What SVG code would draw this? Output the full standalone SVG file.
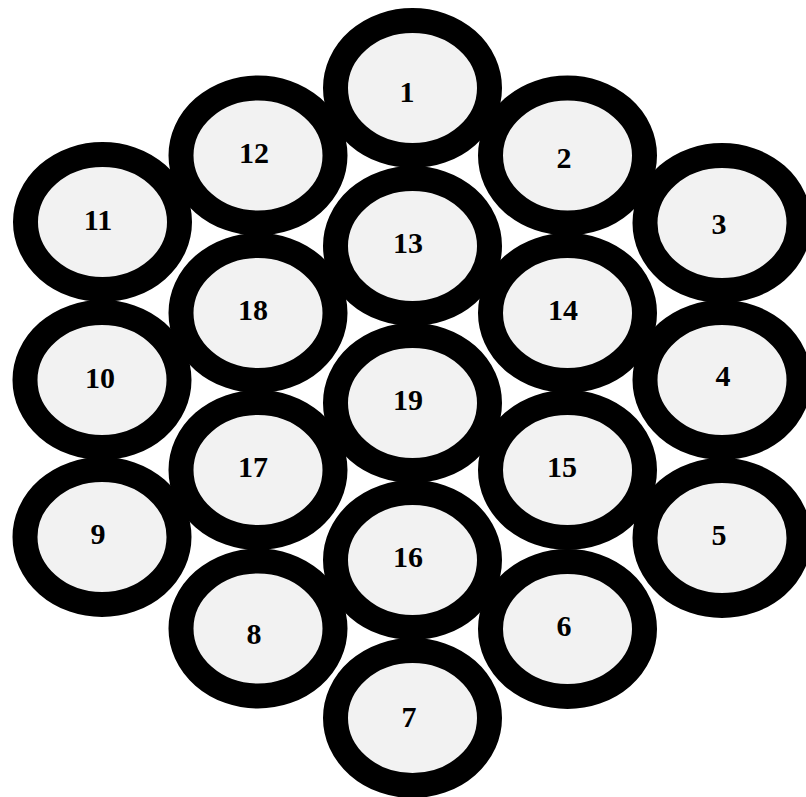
<svg xmlns="http://www.w3.org/2000/svg" width="806" height="797" viewBox="0 0 806 797">
<style>
.ring{fill:#f2f2f2;stroke:#000;stroke-width:25}
.lbl{font-family:"Liberation Serif","Times New Roman",serif;font-weight:bold;font-size:30px;fill:#000;text-anchor:middle}
</style>
<rect width="806" height="797" fill="#fff"/>
<g id="connectors"></g>
<g id="n1"><ellipse class="ring" cx="412.5" cy="88" rx="77" ry="67.5"/><text class="lbl" x="407" y="102">1</text></g>
<g id="n2"><ellipse class="ring" cx="567.5" cy="155.5" rx="77" ry="67.5"/><text class="lbl" x="564" y="168">2</text></g>
<g id="n3"><ellipse class="ring" cx="722" cy="223" rx="77" ry="67.5"/><text class="lbl" x="719" y="234">3</text></g>
<g id="n4"><ellipse class="ring" cx="722" cy="380" rx="77" ry="67.5"/><text class="lbl" x="723" y="386">4</text></g>
<g id="n5"><ellipse class="ring" cx="722" cy="538" rx="77" ry="67.5"/><text class="lbl" x="719" y="545">5</text></g>
<g id="n6"><ellipse class="ring" cx="567.5" cy="629" rx="77" ry="67.5"/><text class="lbl" x="564" y="636">6</text></g>
<g id="n7"><ellipse class="ring" cx="412.5" cy="718" rx="77" ry="67.5"/><text class="lbl" x="409" y="727">7</text></g>
<g id="n8"><ellipse class="ring" cx="258" cy="628.5" rx="77" ry="67.5"/><text class="lbl" x="254" y="644">8</text></g>
<g id="n9"><ellipse class="ring" cx="102" cy="537" rx="77" ry="67.5"/><text class="lbl" x="98" y="544">9</text></g>
<g id="n10"><ellipse class="ring" cx="102" cy="380" rx="77" ry="67.5"/><text class="lbl" x="100" y="388">10</text></g>
<g id="n11"><ellipse class="ring" cx="102.5" cy="222" rx="77" ry="67.5"/><text class="lbl" x="98" y="230">11</text></g>
<g id="n12"><ellipse class="ring" cx="258" cy="155.5" rx="77" ry="67.5"/><text class="lbl" x="254" y="163">12</text></g>
<g id="n13"><ellipse class="ring" cx="412.5" cy="246" rx="77" ry="67.5"/><text class="lbl" x="408" y="253">13</text></g>
<g id="n14"><ellipse class="ring" cx="567.5" cy="313" rx="77" ry="67.5"/><text class="lbl" x="563" y="320">14</text></g>
<g id="n15"><ellipse class="ring" cx="567.5" cy="470" rx="77" ry="67.5"/><text class="lbl" x="562" y="477">15</text></g>
<g id="n16"><ellipse class="ring" cx="412.5" cy="560" rx="77" ry="67.5"/><text class="lbl" x="408" y="567">16</text></g>
<g id="n17"><ellipse class="ring" cx="258" cy="470" rx="77" ry="67.5"/><text class="lbl" x="253" y="477">17</text></g>
<g id="n18"><ellipse class="ring" cx="258" cy="313" rx="77" ry="67.5"/><text class="lbl" x="253" y="320">18</text></g>
<g id="n19"><ellipse class="ring" cx="412.5" cy="403" rx="77" ry="67.5"/><text class="lbl" x="408" y="410">19</text></g>
</svg>
